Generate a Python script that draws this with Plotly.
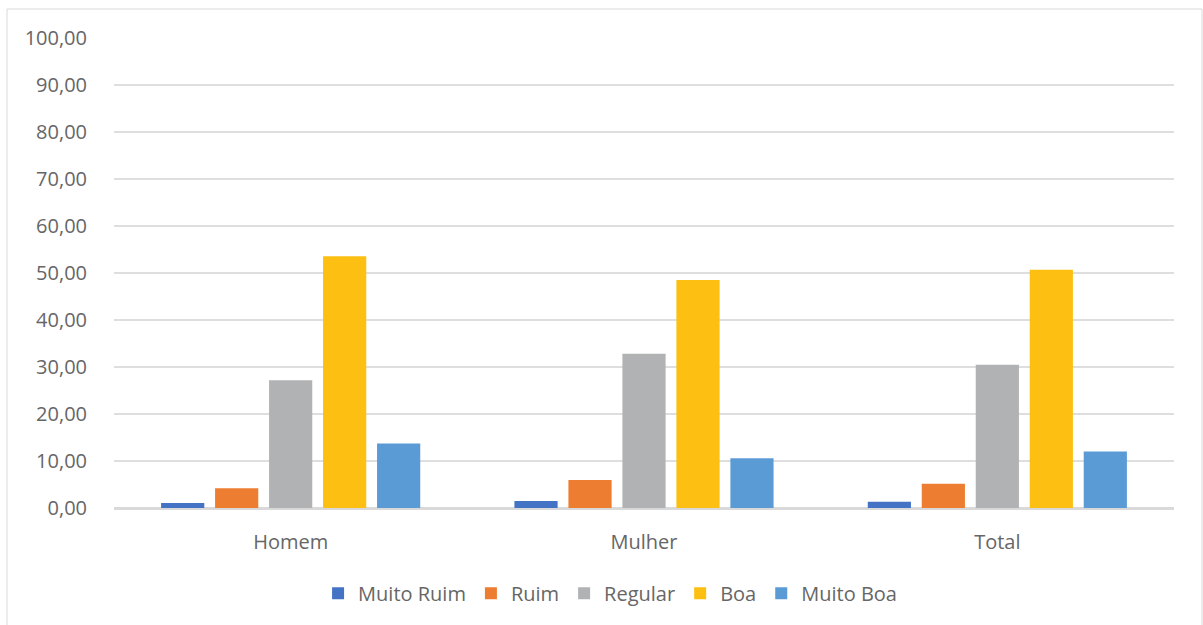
import plotly.graph_objects as go

categories = ["Homem", "Mulher", "Total"]
series_names = ["Muito Ruim", "Ruim", "Regular", "Boa", "Muito Boa"]
muito_ruim = [1.06, 1.49, 1.35]
ruim = [4.19, 5.96, 5.17]
regular = [27.2, 32.8, 30.5]
boa = [53.55, 48.5, 50.7]
muito_boa = [13.7, 10.6, 12.0]
colors = ["#4472C4", "#ED7D31", "#B1B2B3", "#FCBF12", "#5B9BD5"]
y_ticks = [0, 10, 20, 30, 40, 50, 60, 70, 80, 90, 100]

values = [muito_ruim, ruim, regular, boa, muito_boa]

fig = go.Figure()
for name, vals, col in zip(series_names, values, colors):
    fig.add_trace(go.Bar(x=categories, y=vals, name=name, marker_color=col,
                         marker_line_width=0))

font_family = "Open Sans, Liberation Sans, sans-serif"
txt = "#666666"
fig.update_layout(
    width=1203, height=625,
    margin=dict(l=114, r=29, t=38, b=117),
    paper_bgcolor="white", plot_bgcolor="white",
    barmode="group", bargap=0.236, bargroupgap=0.2,
    separators=",.",
    font=dict(family=font_family, size=20, color=txt),
    showlegend=True,
    legend=dict(orientation="h", x=0.468, xanchor="center", y=-0.14, yanchor="top",
                font=dict(size=20, color=txt), itemwidth=30,
                traceorder="normal"),
    xaxis=dict(showgrid=False, showline=True, linecolor="#D9D9D9", linewidth=2,
               ticks="outside", ticklen=15, tickcolor="rgba(0,0,0,0)",
               tickfont=dict(size=20, color=txt)),
    yaxis=dict(range=[0, 100], tickvals=y_ticks, tickformat=".2f",
               showgrid=True, gridcolor="#DEDEDE", gridwidth=2,
               zeroline=True, zerolinecolor="#D9D9D9", zerolinewidth=2,
               ticks="outside", ticklen=22, tickcolor="rgba(0,0,0,0)",
               tickfont=dict(size=20, color=txt), showline=False),
)
fig.add_shape(type="rect", xref="paper", yref="paper",
              x0=(7 - 114) / 1060, x1=(1202 - 114) / 1060,
              y0=(508 - 640) / 470, y1=(508 - 9) / 470,
              line=dict(color="#D9D9D9", width=1), fillcolor="rgba(0,0,0,0)",
              layer="below")

fig.write_html("out.html")
